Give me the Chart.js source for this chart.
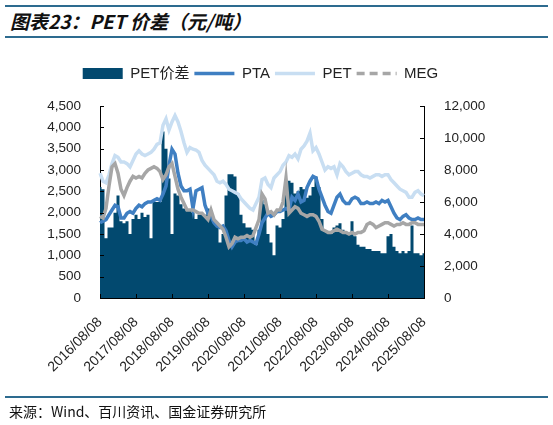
<!DOCTYPE html>
<html>
<head>
<meta charset="utf-8">
<script src="https://cdn.jsdelivr.net/npm/chart.js@4.4.1/dist/chart.umd.min.js"></script>
<style>
  body { margin: 0; background: #fff; }
  #wrap { position: relative; width: 553px; height: 425px; overflow: hidden; }
  .rule { position: absolute; left: 5px; width: 543px; height: 2px; background: #2d6b8f; }
  #title { position: absolute; left: 10px; top: 8px; font: italic bold 19px "Noto Sans CJK SC", sans-serif; color: #111; line-height: 26px; }
  #source { position: absolute; left: 9px; top: 401px; font: 14px "Noto Sans CJK SC", sans-serif; color: #111; line-height: 20px; }
  canvas { position: absolute; left: 0; top: 0; }
</style>
</head>
<body>
<div id="wrap">
  <div class="rule" style="top:5px"></div>
  <div id="title">图表23：PET 价差（元/吨）</div>
  <div class="rule" style="top:36px"></div>
  <canvas id="pet" width="553" height="425"></canvas>
  <div class="rule" style="top:396px"></div>
  <div id="source">来源：Wind、百川资讯、国金证券研究所</div>
</div>
<script>
// monthly points, 2016/08 .. 2025/08
const categories = [];
for (let y = 2016, m = 8; y < 2025 || (y === 2025 && m <= 8); m++) {
  if (m > 12) { m = 1; y++; }
  if (y === 2025 && m > 8) break;
  categories.push(y + '/' + String(m).padStart(2, '0') + '/08');
}

const yearTicks = ['2016/08/08', '2017/08/08', '2018/08/08', '2019/08/08', '2020/08/08',
  '2021/08/08', '2022/08/08', '2023/08/08', '2024/08/08', '2025/08/08'];

// PET价差, left axis (元/吨)
const spread = [
  2600, 2550, 1400, 1650, 1650, 2000, 2400, 1800, 1750, 1800, 1500, 1850,
  1950, 1850, 2000, 1900, 1950, 1400, 2250, 2250, 2250, 3900, 3500, 2800,
  1500, 2450, 2400, 2200, 2100, 2050, 2050, 2000, 1850, 1950, 1950, 1950,
  2100, 2050, 1800, 1700, 1300, 1500, 2400, 2900, 2900, 2850, 2450, 1950,
  1750, 1650, 1650, 1600, 1250, 1600, 2300, 2200, 1500, 1300, 1000, 1700,
  1650, 1850, 2750, 2750, 2700, 2450, 2500, 2600, 2550, 2350, 2400, 2600,
  2850, 2600, 1850, 1550, 1550, 1500, 1650, 1700, 1750, 1600, 1550, 1500,
  1800, 1450, 1250, 1200, 1200, 1150, 1150, 1100, 1100, 1100, 1050, 1050,
  1450, 1500, 1200, 1100, 1050, 1100, 1050, 1100, 1700, 1050, 1050, 1000, 1050
];

// right axis series
const pta = [
  4700, 4800, 4900, 5200, 5500, 5800, 5700, 5000, 5000, 5300, 5400, 5300,
  5600, 5800, 5700, 5900, 6000, 6000, 6100, 6200, 6100, 6500, 7000, 8300,
  9300, 9000, 7800, 7000, 6700, 6700, 6800, 5600, 6700, 6800, 6900, 5800,
  5300, 5100, 4700, 4500, 4400, 4500, 4200, 3600, 3200, 3500, 3600, 3600,
  3700, 3500, 3600, 3500, 3400, 4000, 4700, 5000, 5300, 5100, 5200, 5400,
  5400, 5500, 5600, 5500, 6300, 6100, 6500, 6000, 6100, 6900, 7300, 7600,
  7500, 6800, 6300, 5800, 5400, 5300, 5800, 6300, 6500, 6100, 5900, 5900,
  6200, 6300, 6200, 5900, 5900, 6000, 5900, 5900, 6000, 5900, 6100, 6000,
  6100, 5700, 5300, 5000, 4900, 5100, 5200, 5000, 4900, 4900, 5000, 4900, 4900
];

const pet = [
  7800, 7300, 7200, 7700, 8400, 8900, 8800, 8500, 8500, 8400, 8200, 8600,
  9000, 9200, 9000, 8900, 9000, 9100, 9300, 9600, 9700, 10800, 11200, 10500,
  11000, 11400, 11000, 10400, 9700, 9100, 9400, 9300, 9250, 9100, 8600, 8300,
  8100, 7900, 7700, 7300, 7200, 7300, 7100, 6800, 6700, 6600, 6500, 6200,
  6000, 5800, 5600, 5500, 5900, 6300, 7400, 7500, 7100, 6900, 7500, 7700,
  7900, 8300, 8500, 8900, 8800, 9000, 8700, 9300, 9500, 9800, 10300, 9200,
  9400, 9000, 8500, 8000, 8200, 8100, 8200, 7700, 8400, 8200, 7900, 7700,
  7800, 7900, 7900, 7700, 7600, 7600, 7500, 7600, 7700, 7700, 7600, 7700,
  7700, 7400, 7200, 7000, 6800, 6700, 6600, 6300, 6300, 6600, 6700, 6500, 6400
];

const meg = [
  5100, 5000, 5600, 7000, 8200, 8400, 7800, 6800, 6400, 6900, 7300, 7600,
  7500, 7600, 7500, 7800, 8000, 8100, 8200, 8100, 7900, 7400, 7700, 8200,
  8400, 7600, 6800, 6300, 5900, 5500, 5500, 5500, 5400, 5300, 5300, 5100,
  4900, 5500, 4900, 4700, 4500, 4300, 3800, 3200, 3400, 3800, 3700, 3800,
  3800, 3900, 3800, 3900, 4400, 4900, 6500, 6200, 5300, 5400, 5200, 5500,
  5500, 6000, 7500, 5300, 5500, 5700, 5600, 5300, 5200, 5100, 5200, 5200,
  5100, 4800, 4300, 4200, 4100, 4100, 4200, 4300, 4200, 4100, 4100, 4000,
  4100, 4000, 4100, 4100, 4200, 4600, 4700, 4600, 4400, 4500, 4600, 4700,
  4700, 4600, 4500, 4600, 4600, 4700, 4600, 4600, 4700, 4700, 4600, 4600, 4600
];

const NAVY = '#02496f';
const BLUE = '#3f7fc2';
const LIGHT = '#c8def2';
const GREY = '#a6a6a6';
const FONT = '"Liberation Sans", "Noto Sans CJK SC", sans-serif';

// tick marks point into the plot
const innerTicks = {
  id: 'innerTicks',
  afterDatasetsDraw(chart) {
    const { ctx, chartArea: a, scales } = chart;
    ctx.save();
    ctx.strokeStyle = '#000';
    ctx.lineWidth = 1;
    ctx.beginPath();
    scales.x.ticks.forEach((t, i) => {
      if (!yearTicks.includes(categories[t.value])) return;
      const px = Math.round(scales.x.getPixelForTick(i)) + 0.5;
      ctx.moveTo(px, a.bottom);
      ctx.lineTo(px, a.bottom - 4);
    });
    scales.y.ticks.forEach((t, i) => {
      const py = Math.round(scales.y.getPixelForTick(i)) + 0.5;
      ctx.moveTo(a.left, py);
      ctx.lineTo(a.left + 4, py);
    });
    scales.y1.ticks.forEach((t, i) => {
      const py = Math.round(scales.y1.getPixelForTick(i)) + 0.5;
      ctx.moveTo(a.right, py);
      ctx.lineTo(a.right - 4, py);
    });
    ctx.stroke();
    ctx.restore();
  }
};

// extra room under the legend
const legendGap = {
  id: 'legendGap',
  beforeInit(chart) {
    const fit = chart.legend.fit;
    chart.legend.fit = function () {
      fit.bind(chart.legend)();
      this.height += 15;
    };
  }
};

const ctx = document.getElementById('pet').getContext('2d');
new Chart(ctx, {
  type: 'line',
  data: {
    labels: categories,
    datasets: [
      {
        label: 'PET价差',
        data: spread,
        yAxisID: 'y',
        backgroundColor: NAVY,
        borderColor: NAVY,
        borderWidth: 0,
        pointRadius: 0,
        fill: 'origin',
        stepped: 'middle',
        order: 3
      },
      {
        label: 'PTA',
        data: pta,
        yAxisID: 'y1',
        borderColor: BLUE,
        backgroundColor: BLUE,
        borderWidth: 3.5,
        pointRadius: 0,
        tension: 0,
        order: 1
      },
      {
        label: 'PET',
        data: pet,
        yAxisID: 'y1',
        borderColor: LIGHT,
        backgroundColor: LIGHT,
        borderWidth: 3.5,
        pointRadius: 0,
        tension: 0,
        order: 2
      },
      {
        label: 'MEG',
        data: meg,
        yAxisID: 'y1',
        borderColor: GREY,
        backgroundColor: GREY,
        borderWidth: 3.5,
        pointRadius: 0,
        tension: 0,
        order: 0
      }
    ]
  },
  options: {
    responsive: false,
    animation: false,
    devicePixelRatio: 1,
    layout: { padding: { top: 61, right: 32, left: 0, bottom: 0 } },
    scales: {
      x: {
        type: 'category',
        offset: false,
        grid: { display: false, offset: false },
        border: { color: '#000', width: 1 },
        ticks: {
          autoSkip: false,
          maxRotation: 45,
          minRotation: 45,
          padding: 8,
          color: '#222',
          font: { family: FONT, size: 14 },
          callback(value) {
            const c = categories[value];
            return yearTicks.includes(c) ? c : '';
          }
        },
        afterFit(scale) { scale.height = 127; }
      },
      y: {
        position: 'left',
        min: 0,
        max: 4500,
        grid: { display: false },
        border: { color: '#000', width: 1 },
        ticks: {
          stepSize: 500,
          padding: 11,
          color: '#222',
          font: { family: FONT, size: 13.5 },
          callback: v => v.toLocaleString('en-US')
        },
        afterFit(scale) { scale.width = 100; }
      },
      y1: {
        position: 'right',
        min: 0,
        max: 12000,
        grid: { display: false },
        border: { color: '#000', width: 1 },
        ticks: {
          stepSize: 2000,
          padding: 12,
          color: '#222',
          font: { family: FONT, size: 13.5 },
          callback: v => v.toLocaleString('en-US')
        },
        afterFit(scale) { scale.width = 97; }
      }
    },
    plugins: {
      title: { display: false },
      tooltip: { enabled: false },
      legend: {
        display: true,
        position: 'top',
        labels: {
          usePointStyle: true,
          pointStyleWidth: 40,
          boxWidth: 40,
          boxHeight: 11,
          padding: 5,
          color: '#222',
          font: { family: FONT, size: 15 },
          sort: (a, b) => a.datasetIndex - b.datasetIndex,
          generateLabels(chart) {
            const items = Chart.defaults.plugins.legend.labels.generateLabels(chart);
            items.forEach(it => {
              if (it.datasetIndex === 0) {
                it.pointStyle = 'rect';
                it.lineWidth = 0;
              } else {
                it.pointStyle = 'line';
                it.lineWidth = 3.5;
              }
              if (it.datasetIndex === 3) it.lineDash = [8, 5];
            });
            return items;
          }
        }
      }
    }
  },
  plugins: [innerTicks, legendGap]
});
</script>
</body>
</html>
